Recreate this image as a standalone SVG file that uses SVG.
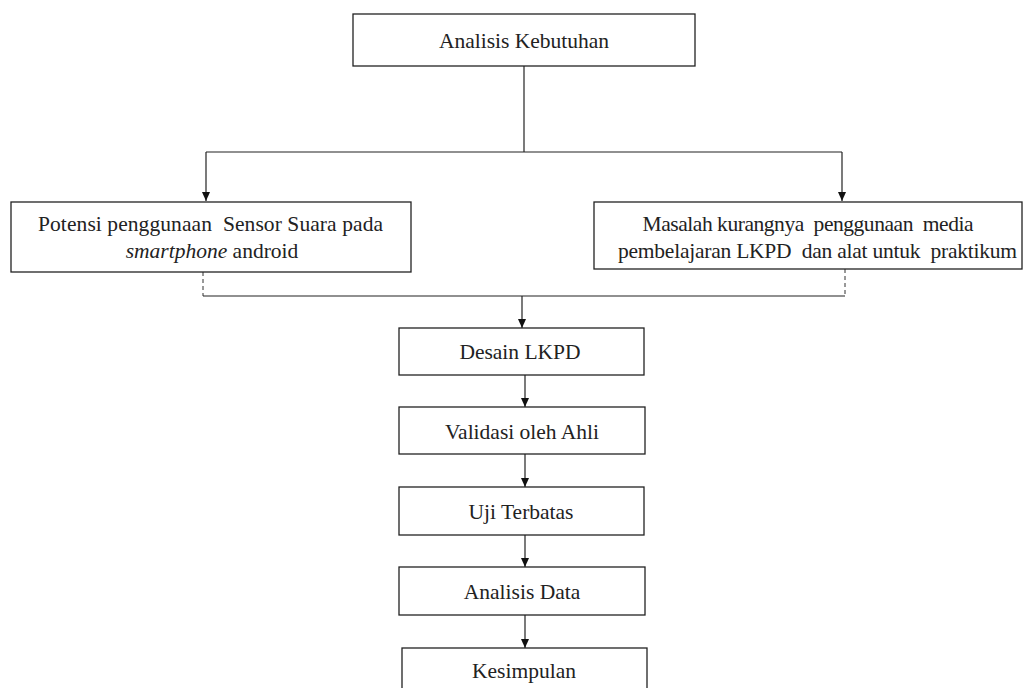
<svg xmlns="http://www.w3.org/2000/svg" width="1024" height="688" viewBox="0 0 1024 688">
<defs>
<style>
.box{fill:#fff;stroke:#222;stroke-width:1.3}
.t{font-family:"Liberation Serif","Times New Roman",serif;font-size:21.5px;fill:#222;text-anchor:middle;white-space:pre}
.ln{fill:none;stroke:#222;stroke-width:1.2}
.dash{fill:none;stroke:#333;stroke-width:1;stroke-dasharray:4 3}
</style>
<marker id="ah" markerWidth="9" markerHeight="8" refX="9" refY="4" orient="auto" markerUnits="userSpaceOnUse">
<path d="M0,0 L9,4 L0,8 z" fill="#111"/>
</marker>
</defs>
<rect width="1024" height="688" fill="#fff"/>
<g id="connectors">
<path class="ln" d="M524,66 V152"/>
<path class="ln" d="M206,152 H842"/>
<path class="ln" d="M206,152 V201" marker-end="url(#ah)"/>
<path class="ln" d="M842,152 V201" marker-end="url(#ah)"/>
<path class="dash" d="M203,272 V296"/>
<path class="dash" d="M845,269 V296"/>
<path class="ln" d="M203,296 H845"/>
<path class="ln" d="M522,296 V328" marker-end="url(#ah)"/>
<path class="ln" d="M525,375 V407" marker-end="url(#ah)"/>
<path class="ln" d="M525,454 V487" marker-end="url(#ah)"/>
<path class="ln" d="M525,535 V567" marker-end="url(#ah)"/>
<path class="ln" d="M525,615 V648" marker-end="url(#ah)"/>
</g>
<g id="n-analisis-kebutuhan">
<rect class="box" x="353" y="14" width="342" height="52"/>
<text class="t" x="524" y="48">Analisis Kebutuhan</text>
</g>
<g id="n-potensi">
<rect class="box" x="11" y="202" width="400" height="70"/>
<text class="t" x="210.5" y="231" textLength="345" lengthAdjust="spacing">Potensi penggunaan  Sensor Suara pada</text>
<text class="t" x="212" y="258"><tspan font-style="italic">smartphone</tspan> android</text>
</g>
<g id="n-masalah">
<rect class="box" x="594" y="202" width="428" height="67"/>
<text class="t" x="808" y="231" textLength="331" lengthAdjust="spacing">Masalah kurangnya  penggunaan  media</text>
<text class="t" x="817.5" y="258" textLength="399" lengthAdjust="spacing">pembelajaran LKPD  dan alat untuk  praktikum</text>
</g>
<g id="n-desain">
<rect class="box" x="399" y="328" width="245" height="47"/>
<text class="t" x="520" y="359">Desain LKPD</text>
</g>
<g id="n-validasi">
<rect class="box" x="399" y="407" width="246" height="47"/>
<text class="t" x="522" y="439">Validasi oleh Ahli</text>
</g>
<g id="n-uji">
<rect class="box" x="399" y="487" width="245" height="48"/>
<text class="t" x="521" y="519">Uji Terbatas</text>
</g>
<g id="n-analisis-data">
<rect class="box" x="399" y="567" width="246" height="48"/>
<text class="t" x="522" y="599">Analisis Data</text>
</g>
<g id="n-kesimpulan">
<rect class="box" x="402" y="648" width="245" height="48"/>
<text class="t" x="524" y="678">Kesimpulan</text>
</g>
</svg>
